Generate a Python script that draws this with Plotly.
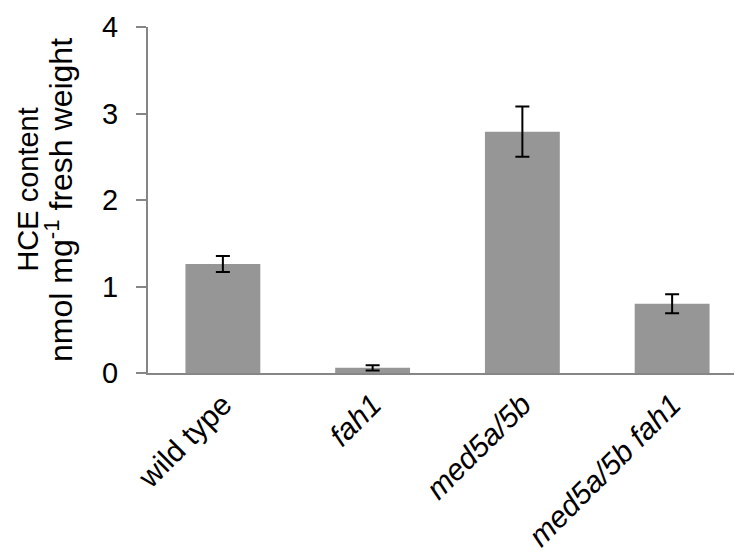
import plotly.graph_objects as go

genotypes = ["wild type", "fah1", "med5a/5b", "med5a/5b fah1"]
tick_labels = ["wild type", "<i>fah1</i>", "<i>med5a/5b</i>", "<i>med5a/5b fah1</i>"]
hce = [1.26, 0.06, 2.79, 0.80]
hce_err = [0.093, 0.03, 0.29, 0.11]
y_ticks = [0, 1, 2, 3, 4]

fig = go.Figure()

fig.add_trace(
    go.Bar(
        x=genotypes,
        y=hce,
        marker=dict(color="#969696", line=dict(width=0)),
        error_y=dict(
            type="data",
            array=hce_err,
            visible=True,
            color="black",
            thickness=2,
            width=7
        ),
        showlegend=False
    )
)

# y title, two lines
fig.add_annotation(
    text="HCE content",
    xref="paper", yref="paper",
    x=0, y=0.53, xshift=-120,
    xanchor="center", yanchor="middle",
    textangle=-90, showarrow=False,
    font=dict(size=29)
)
fig.add_annotation(
    text="nmol mg<sup>-1</sup> fresh weight",
    xref="paper", yref="paper",
    x=0, y=0.5, xshift=-89,
    xanchor="center", yanchor="middle",
    textangle=-90, showarrow=False,
    font=dict(size=32)
)

fig.update_layout(
    width=742,
    height=560,
    margin=dict(l=140, r=3, t=14, b=195),
    paper_bgcolor="white",
    plot_bgcolor="white",
    bargap=0.5,
    font=dict(family="Liberation Sans, Arial", color="black"),

    xaxis=dict(
        tickvals=genotypes,
        ticktext=tick_labels,
        tickangle=-45,
        tickfont=dict(size=30),
        showline=True,
        linecolor="#868686",
        linewidth=2,
        ticks="",
        showgrid=False,
        zeroline=False,
    ),

    yaxis=dict(
        range=[0, 4],
        tickvals=y_ticks,
        tickfont=dict(size=29),
        ticklabelstandoff=12,
        ticklabeloverflow="allow",
        showline=True,
        linecolor="#868686",
        linewidth=2,
        ticks="outside",
        ticklen=10,
        tickwidth=2,
        tickcolor="#868686",
        showgrid=False,
        zeroline=False,
    )
)

fig.write_html("out.html")
